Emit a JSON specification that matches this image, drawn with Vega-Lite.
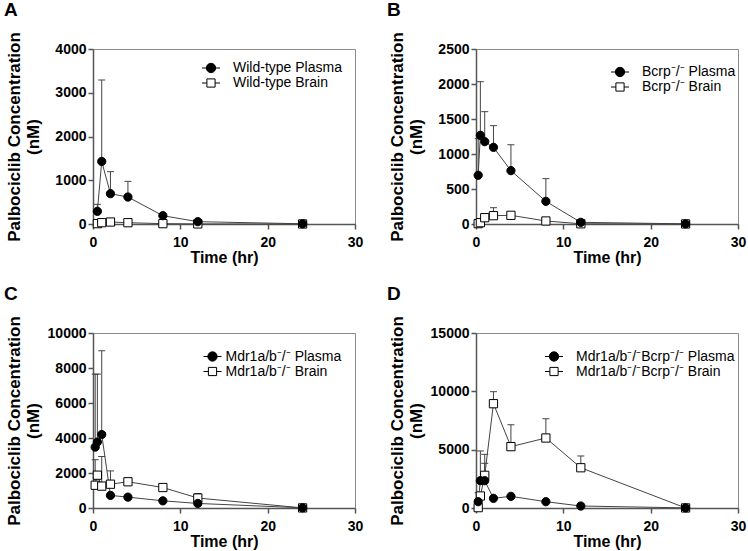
{
  "$schema": "https://vega.github.io/schema/vega-lite/v6.json",
  "padding": {"left": 3, "top": 0, "right": 5, "bottom": 5},
  "background": "white",
  "data": {"values": [
    {"panel": "A", "kind": "Plasma", "t": 0.5, "c": 290, "hi": 450},
    {"panel": "A", "kind": "Plasma", "t": 1, "c": 1430, "hi": 3290},
    {"panel": "A", "kind": "Plasma", "t": 2, "c": 693, "hi": 1196},
    {"panel": "A", "kind": "Plasma", "t": 4, "c": 617, "hi": 975},
    {"panel": "A", "kind": "Plasma", "t": 8, "c": 190, "hi": null},
    {"panel": "A", "kind": "Plasma", "t": 12, "c": 53, "hi": null},
    {"panel": "A", "kind": "Plasma", "t": 24, "c": 5, "hi": null},
    {"panel": "A", "kind": "Brain", "t": 0.5, "c": 8, "hi": null},
    {"panel": "A", "kind": "Brain", "t": 1, "c": 30, "hi": null},
    {"panel": "A", "kind": "Brain", "t": 2, "c": 45, "hi": null},
    {"panel": "A", "kind": "Brain", "t": 4, "c": 30, "hi": null},
    {"panel": "A", "kind": "Brain", "t": 8, "c": 8, "hi": null},
    {"panel": "A", "kind": "Brain", "t": 12, "c": 2, "hi": null},
    {"panel": "A", "kind": "Brain", "t": 24, "c": 1, "hi": null},

    {"panel": "B", "kind": "Plasma", "t": 0.25, "c": 696, "hi": 1219},
    {"panel": "B", "kind": "Plasma", "t": 0.5, "c": 1267, "hi": 2033},
    {"panel": "B", "kind": "Plasma", "t": 1, "c": 1176, "hi": 1605},
    {"panel": "B", "kind": "Plasma", "t": 2, "c": 1095, "hi": 1405},
    {"panel": "B", "kind": "Plasma", "t": 4, "c": 762, "hi": 1133},
    {"panel": "B", "kind": "Plasma", "t": 8, "c": 324, "hi": 648},
    {"panel": "B", "kind": "Plasma", "t": 12, "c": 24, "hi": null},
    {"panel": "B", "kind": "Plasma", "t": 24, "c": 2, "hi": null},
    {"panel": "B", "kind": "Brain", "t": 0.25, "c": 5, "hi": null},
    {"panel": "B", "kind": "Brain", "t": 0.5, "c": 19, "hi": null},
    {"panel": "B", "kind": "Brain", "t": 1, "c": 90, "hi": null},
    {"panel": "B", "kind": "Brain", "t": 2, "c": 119, "hi": 233},
    {"panel": "B", "kind": "Brain", "t": 4, "c": 124, "hi": null},
    {"panel": "B", "kind": "Brain", "t": 8, "c": 43, "hi": null},
    {"panel": "B", "kind": "Brain", "t": 12, "c": 3, "hi": null},
    {"panel": "B", "kind": "Brain", "t": 24, "c": 1, "hi": null},

    {"panel": "C", "kind": "Plasma", "t": 0.25, "c": 3480, "hi": 7650},
    {"panel": "C", "kind": "Plasma", "t": 0.5, "c": 3770, "hi": 7650},
    {"panel": "C", "kind": "Plasma", "t": 1, "c": 4200, "hi": 8980},
    {"panel": "C", "kind": "Plasma", "t": 2, "c": 720, "hi": null},
    {"panel": "C", "kind": "Plasma", "t": 4, "c": 620, "hi": null},
    {"panel": "C", "kind": "Plasma", "t": 8, "c": 410, "hi": null},
    {"panel": "C", "kind": "Plasma", "t": 12, "c": 260, "hi": null},
    {"panel": "C", "kind": "Plasma", "t": 24, "c": 10, "hi": null},
    {"panel": "C", "kind": "Brain", "t": 0.25, "c": 1300, "hi": 2760},
    {"panel": "C", "kind": "Brain", "t": 0.5, "c": 1875, "hi": null},
    {"panel": "C", "kind": "Brain", "t": 1, "c": 1250, "hi": 2950},
    {"panel": "C", "kind": "Brain", "t": 2, "c": 1360, "hi": 2120},
    {"panel": "C", "kind": "Brain", "t": 4, "c": 1500, "hi": 1650},
    {"panel": "C", "kind": "Brain", "t": 8, "c": 1170, "hi": 1300},
    {"panel": "C", "kind": "Brain", "t": 12, "c": 570, "hi": 830},
    {"panel": "C", "kind": "Brain", "t": 24, "c": 5, "hi": null},

    {"panel": "D", "kind": "Plasma", "t": 0.25, "c": 540, "hi": 1310},
    {"panel": "D", "kind": "Plasma", "t": 0.5, "c": 2340, "hi": 4890},
    {"panel": "D", "kind": "Plasma", "t": 1, "c": 2340, "hi": 3830},
    {"panel": "D", "kind": "Plasma", "t": 2, "c": 830, "hi": null},
    {"panel": "D", "kind": "Plasma", "t": 4, "c": 1000, "hi": null},
    {"panel": "D", "kind": "Plasma", "t": 8, "c": 540, "hi": null},
    {"panel": "D", "kind": "Plasma", "t": 12, "c": 170, "hi": null},
    {"panel": "D", "kind": "Plasma", "t": 24, "c": 10, "hi": null},
    {"panel": "D", "kind": "Brain", "t": 0.25, "c": 30, "hi": null},
    {"panel": "D", "kind": "Brain", "t": 0.5, "c": 1030, "hi": null},
    {"panel": "D", "kind": "Brain", "t": 1, "c": 2800, "hi": 4600},
    {"panel": "D", "kind": "Brain", "t": 2, "c": 8940, "hi": 9970},
    {"panel": "D", "kind": "Brain", "t": 4, "c": 5260, "hi": 7140},
    {"panel": "D", "kind": "Brain", "t": 8, "c": 6000, "hi": 7650},
    {"panel": "D", "kind": "Brain", "t": 12, "c": 3450, "hi": 4460},
    {"panel": "D", "kind": "Brain", "t": 24, "c": 5, "hi": null}
  ]},
  "columns": 2,
  "bounds": "flush",
  "spacing": {"row": 109, "column": 121},
  "resolve": {"scale": {"x": "independent", "y": "independent", "fill": "independent", "shape": "independent", "stroke": "independent"}, "legend": {"fill": "independent", "shape": "independent", "stroke": "independent"}},
  "concat": [
    {
      "width": 262, "height": 175,
      "title": {"text": "A", "anchor": "start", "frame": "group", "dx": -89, "offset": 12, "fontSize": 19, "fontWeight": "bold", "font": "Liberation Sans", "color": "black"},
      "transform": [{"filter": "datum.panel == 'A'"}],
      "encoding": {
        "x": {"field": "t", "type": "quantitative", "scale": {"domain": [0, 30], "nice": false}, "axis": {"values": [0, 10, 20, 30], "title": "Time (hr)"}},
        "y": {"field": "c", "type": "quantitative", "scale": {"domain": [0, 4000], "nice": false}, "axis": {"values": [0, 1000, 2000, 3000, 4000], "title": ["Palbociclib Concentration", "(nM)"]}}
      },
      "layer": [
        {"transform": [{"filter": "isValid(datum.hi)"}], "mark": {"type": "rule", "color": "#444", "strokeWidth": 1}, "encoding": {"y2": {"field": "hi"}}},
        {"transform": [{"filter": "isValid(datum.hi)"}], "mark": {"type": "tick", "orient": "horizontal", "color": "#444", "size": 7, "thickness": 1, "opacity": 1}, "encoding": {"y": {"field": "hi", "type": "quantitative"}}},
        {"mark": {"type": "line", "color": "#444", "strokeWidth": 1}, "encoding": {"detail": {"field": "kind"}}},
        {"mark": {"type": "point", "filled": true, "opacity": 0},
         "encoding": {
           "fill": {"field": "kind", "type": "nominal", "scale": {"domain": ["Plasma", "Brain"], "range": ["black", "white"]},
             "legend": {"legendX": 111, "legendY": 12, "labelOffset": 15, "rowPadding": 1, "labelExpr": "'Wild-type ' + datum.label"}},
           "stroke": {"field": "kind", "type": "nominal", "scale": {"domain": ["Plasma", "Brain"], "range": ["black", "black"]}},
           "shape": {"field": "kind", "type": "nominal", "scale": {"domain": ["Plasma", "Brain"], "range": ["M-1.8,0H-0.9M0.93,0H1.8M0.93,0A0.93,0.93,0,1,1,-0.93,0A0.93,0.93,0,1,1,0.93,0Z", "M-1.8,0H-0.82M0.82,0H1.8M-0.82,-0.82H0.82V0.82H-0.82Z"]}}
         }},
        {"transform": [{"filter": "datum.kind == 'Brain'"}], "mark": {"type": "point", "shape": "square", "filled": true, "fill": "white", "stroke": "black", "strokeWidth": 1, "size": 68, "opacity": 1}, "encoding": {}},
        {"transform": [{"filter": "datum.kind == 'Plasma'"}], "mark": {"type": "point", "shape": "circle", "filled": true, "fill": "black", "stroke": "black", "strokeWidth": 1, "size": 68, "opacity": 1}, "encoding": {}}
      ]
    },
    {
      "width": 262, "height": 175,
      "title": {"text": "B", "anchor": "start", "frame": "group", "dx": -89, "offset": 12, "fontSize": 19, "fontWeight": "bold", "font": "Liberation Sans", "color": "black"},
      "transform": [{"filter": "datum.panel == 'B'"}],
      "encoding": {
        "x": {"field": "t", "type": "quantitative", "scale": {"domain": [0, 30], "nice": false}, "axis": {"values": [0, 10, 20, 30], "title": "Time (hr)"}},
        "y": {"field": "c", "type": "quantitative", "scale": {"domain": [0, 2500], "nice": false}, "axis": {"values": [0, 500, 1000, 1500, 2000, 2500], "title": ["Palbociclib Concentration", "(nM)"]}}
      },
      "layer": [
        {"transform": [{"filter": "isValid(datum.hi)"}], "mark": {"type": "rule", "color": "#444", "strokeWidth": 1}, "encoding": {"y2": {"field": "hi"}}},
        {"transform": [{"filter": "isValid(datum.hi)"}], "mark": {"type": "tick", "orient": "horizontal", "color": "#444", "size": 7, "thickness": 1, "opacity": 1}, "encoding": {"y": {"field": "hi", "type": "quantitative"}}},
        {"mark": {"type": "line", "color": "#444", "strokeWidth": 1}, "encoding": {"detail": {"field": "kind"}}},
        {"mark": {"type": "point", "filled": true, "opacity": 0},
         "encoding": {
           "fill": {"field": "kind", "type": "nominal", "scale": {"domain": ["Plasma", "Brain"], "range": ["black", "white"]},
             "legend": {"legendX": 137, "legendY": 16, "labelOffset": 15, "rowPadding": 1, "labelExpr": "'Bcrp⁻/⁻ ' + datum.label"}},
           "stroke": {"field": "kind", "type": "nominal", "scale": {"domain": ["Plasma", "Brain"], "range": ["black", "black"]}},
           "shape": {"field": "kind", "type": "nominal", "scale": {"domain": ["Plasma", "Brain"], "range": ["M-1.8,0H-0.9M0.93,0H1.8M0.93,0A0.93,0.93,0,1,1,-0.93,0A0.93,0.93,0,1,1,0.93,0Z", "M-1.8,0H-0.82M0.82,0H1.8M-0.82,-0.82H0.82V0.82H-0.82Z"]}}
         }},
        {"transform": [{"filter": "datum.kind == 'Brain'"}], "mark": {"type": "point", "shape": "square", "filled": true, "fill": "white", "stroke": "black", "strokeWidth": 1, "size": 68, "opacity": 1}, "encoding": {}},
        {"transform": [{"filter": "datum.kind == 'Plasma'"}], "mark": {"type": "point", "shape": "circle", "filled": true, "fill": "black", "stroke": "black", "strokeWidth": 1, "size": 68, "opacity": 1}, "encoding": {}}
      ]
    },
    {
      "width": 262, "height": 175,
      "title": {"text": "C", "anchor": "start", "frame": "group", "dx": -89, "offset": 12, "fontSize": 19, "fontWeight": "bold", "font": "Liberation Sans", "color": "black"},
      "transform": [{"filter": "datum.panel == 'C'"}],
      "encoding": {
        "x": {"field": "t", "type": "quantitative", "scale": {"domain": [0, 30], "nice": false}, "axis": {"values": [0, 10, 20, 30], "title": "Time (hr)"}},
        "y": {"field": "c", "type": "quantitative", "scale": {"domain": [0, 10000], "nice": false}, "axis": {"values": [0, 2000, 4000, 6000, 8000, 10000], "title": ["Palbociclib Concentration", "(nM)"]}}
      },
      "layer": [
        {"transform": [{"filter": "isValid(datum.hi)"}], "mark": {"type": "rule", "color": "#444", "strokeWidth": 1}, "encoding": {"y2": {"field": "hi"}}},
        {"transform": [{"filter": "isValid(datum.hi)"}], "mark": {"type": "tick", "orient": "horizontal", "color": "#444", "size": 7, "thickness": 1, "opacity": 1}, "encoding": {"y": {"field": "hi", "type": "quantitative"}}},
        {"mark": {"type": "line", "color": "#444", "strokeWidth": 1}, "encoding": {"detail": {"field": "kind"}}},
        {"mark": {"type": "point", "filled": true, "opacity": 0},
         "encoding": {
           "fill": {"field": "kind", "type": "nominal", "scale": {"domain": ["Plasma", "Brain"], "range": ["black", "white"]},
             "legend": {"legendX": 112.5, "legendY": 16.5, "labelOffset": 6, "rowPadding": 1, "labelExpr": "'Mdr1a/b⁻/⁻ ' + datum.label"}},
           "stroke": {"field": "kind", "type": "nominal", "scale": {"domain": ["Plasma", "Brain"], "range": ["black", "black"]}},
           "shape": {"field": "kind", "type": "nominal", "scale": {"domain": ["Plasma", "Brain"], "range": ["M-1.8,0H-0.9M0.93,0H1.8M0.93,0A0.93,0.93,0,1,1,-0.93,0A0.93,0.93,0,1,1,0.93,0Z", "M-1.8,0H-0.82M0.82,0H1.8M-0.82,-0.82H0.82V0.82H-0.82Z"]}}
         }},
        {"transform": [{"filter": "datum.kind == 'Brain'"}], "mark": {"type": "point", "shape": "square", "filled": true, "fill": "white", "stroke": "black", "strokeWidth": 1, "size": 68, "opacity": 1}, "encoding": {}},
        {"transform": [{"filter": "datum.kind == 'Plasma'"}], "mark": {"type": "point", "shape": "circle", "filled": true, "fill": "black", "stroke": "black", "strokeWidth": 1, "size": 68, "opacity": 1}, "encoding": {}}
      ]
    },
    {
      "width": 262, "height": 175,
      "title": {"text": "D", "anchor": "start", "frame": "group", "dx": -89, "offset": 12, "fontSize": 19, "fontWeight": "bold", "font": "Liberation Sans", "color": "black"},
      "transform": [{"filter": "datum.panel == 'D'"}],
      "encoding": {
        "x": {"field": "t", "type": "quantitative", "scale": {"domain": [0, 30], "nice": false}, "axis": {"values": [0, 10, 20, 30], "title": "Time (hr)"}},
        "y": {"field": "c", "type": "quantitative", "scale": {"domain": [0, 15000], "nice": false}, "axis": {"values": [0, 5000, 10000, 15000], "title": ["Palbociclib Concentration", "(nM)"]}}
      },
      "layer": [
        {"transform": [{"filter": "isValid(datum.hi)"}], "mark": {"type": "rule", "color": "#444", "strokeWidth": 1}, "encoding": {"y2": {"field": "hi"}}},
        {"transform": [{"filter": "isValid(datum.hi)"}], "mark": {"type": "tick", "orient": "horizontal", "color": "#444", "size": 7, "thickness": 1, "opacity": 1}, "encoding": {"y": {"field": "hi", "type": "quantitative"}}},
        {"mark": {"type": "line", "color": "#444", "strokeWidth": 1}, "encoding": {"detail": {"field": "kind"}}},
        {"mark": {"type": "point", "filled": true, "opacity": 0},
         "encoding": {
           "fill": {"field": "kind", "type": "nominal", "scale": {"domain": ["Plasma", "Brain"], "range": ["black", "white"]},
             "legend": {"legendX": 71, "legendY": 16.5, "labelOffset": 15, "rowPadding": 1, "labelExpr": "'Mdr1a/b⁻/⁻Bcrp⁻/⁻ ' + datum.label"}},
           "stroke": {"field": "kind", "type": "nominal", "scale": {"domain": ["Plasma", "Brain"], "range": ["black", "black"]}},
           "shape": {"field": "kind", "type": "nominal", "scale": {"domain": ["Plasma", "Brain"], "range": ["M-1.8,0H-0.9M0.93,0H1.8M0.93,0A0.93,0.93,0,1,1,-0.93,0A0.93,0.93,0,1,1,0.93,0Z", "M-1.8,0H-0.82M0.82,0H1.8M-0.82,-0.82H0.82V0.82H-0.82Z"]}}
         }},
        {"transform": [{"filter": "datum.kind == 'Brain'"}], "mark": {"type": "point", "shape": "square", "filled": true, "fill": "white", "stroke": "black", "strokeWidth": 1, "size": 68, "opacity": 1}, "encoding": {}},
        {"transform": [{"filter": "datum.kind == 'Plasma'"}], "mark": {"type": "point", "shape": "circle", "filled": true, "fill": "black", "stroke": "black", "strokeWidth": 1, "size": 68, "opacity": 1}, "encoding": {}}
      ]
    }
  ],
  "config": {
    "font": "Liberation Sans",
    "view": {"stroke": "#8a8a8a", "strokeWidth": 1},
    "axis": {"domainColor": "#555", "domainWidth": 1.5, "tickColor": "#555", "tickWidth": 1.5, "tickSize": 5, "labelFont": "Liberation Sans", "labelFontWeight": "bold", "labelFontSize": 14, "labelColor": "black", "labelPadding": 3, "titleFont": "Liberation Sans", "titleFontWeight": "bold", "titleFontSize": 16, "titleColor": "black", "grid": false, "labelFlush": false, "format": "d"},
    "axisX": {"titlePadding": 0, "labelPadding": 6},
    "axisY": {"labelPadding": 2, "titleFontSize": 17, "titleLineHeight": 19, "titleX": -70, "titleY": 87.5, "titleBaseline": "bottom", "titleAlign": "center", "titleAngle": -90},
    "legend": {"orient": "none", "title": null, "labelFont": "Liberation Sans", "labelFontSize": 14, "labelColor": "black", "symbolSize": 100, "symbolOpacity": 1, "symbolStrokeWidth": 1, "rowPadding": 2, "padding": 0}
  }
}
